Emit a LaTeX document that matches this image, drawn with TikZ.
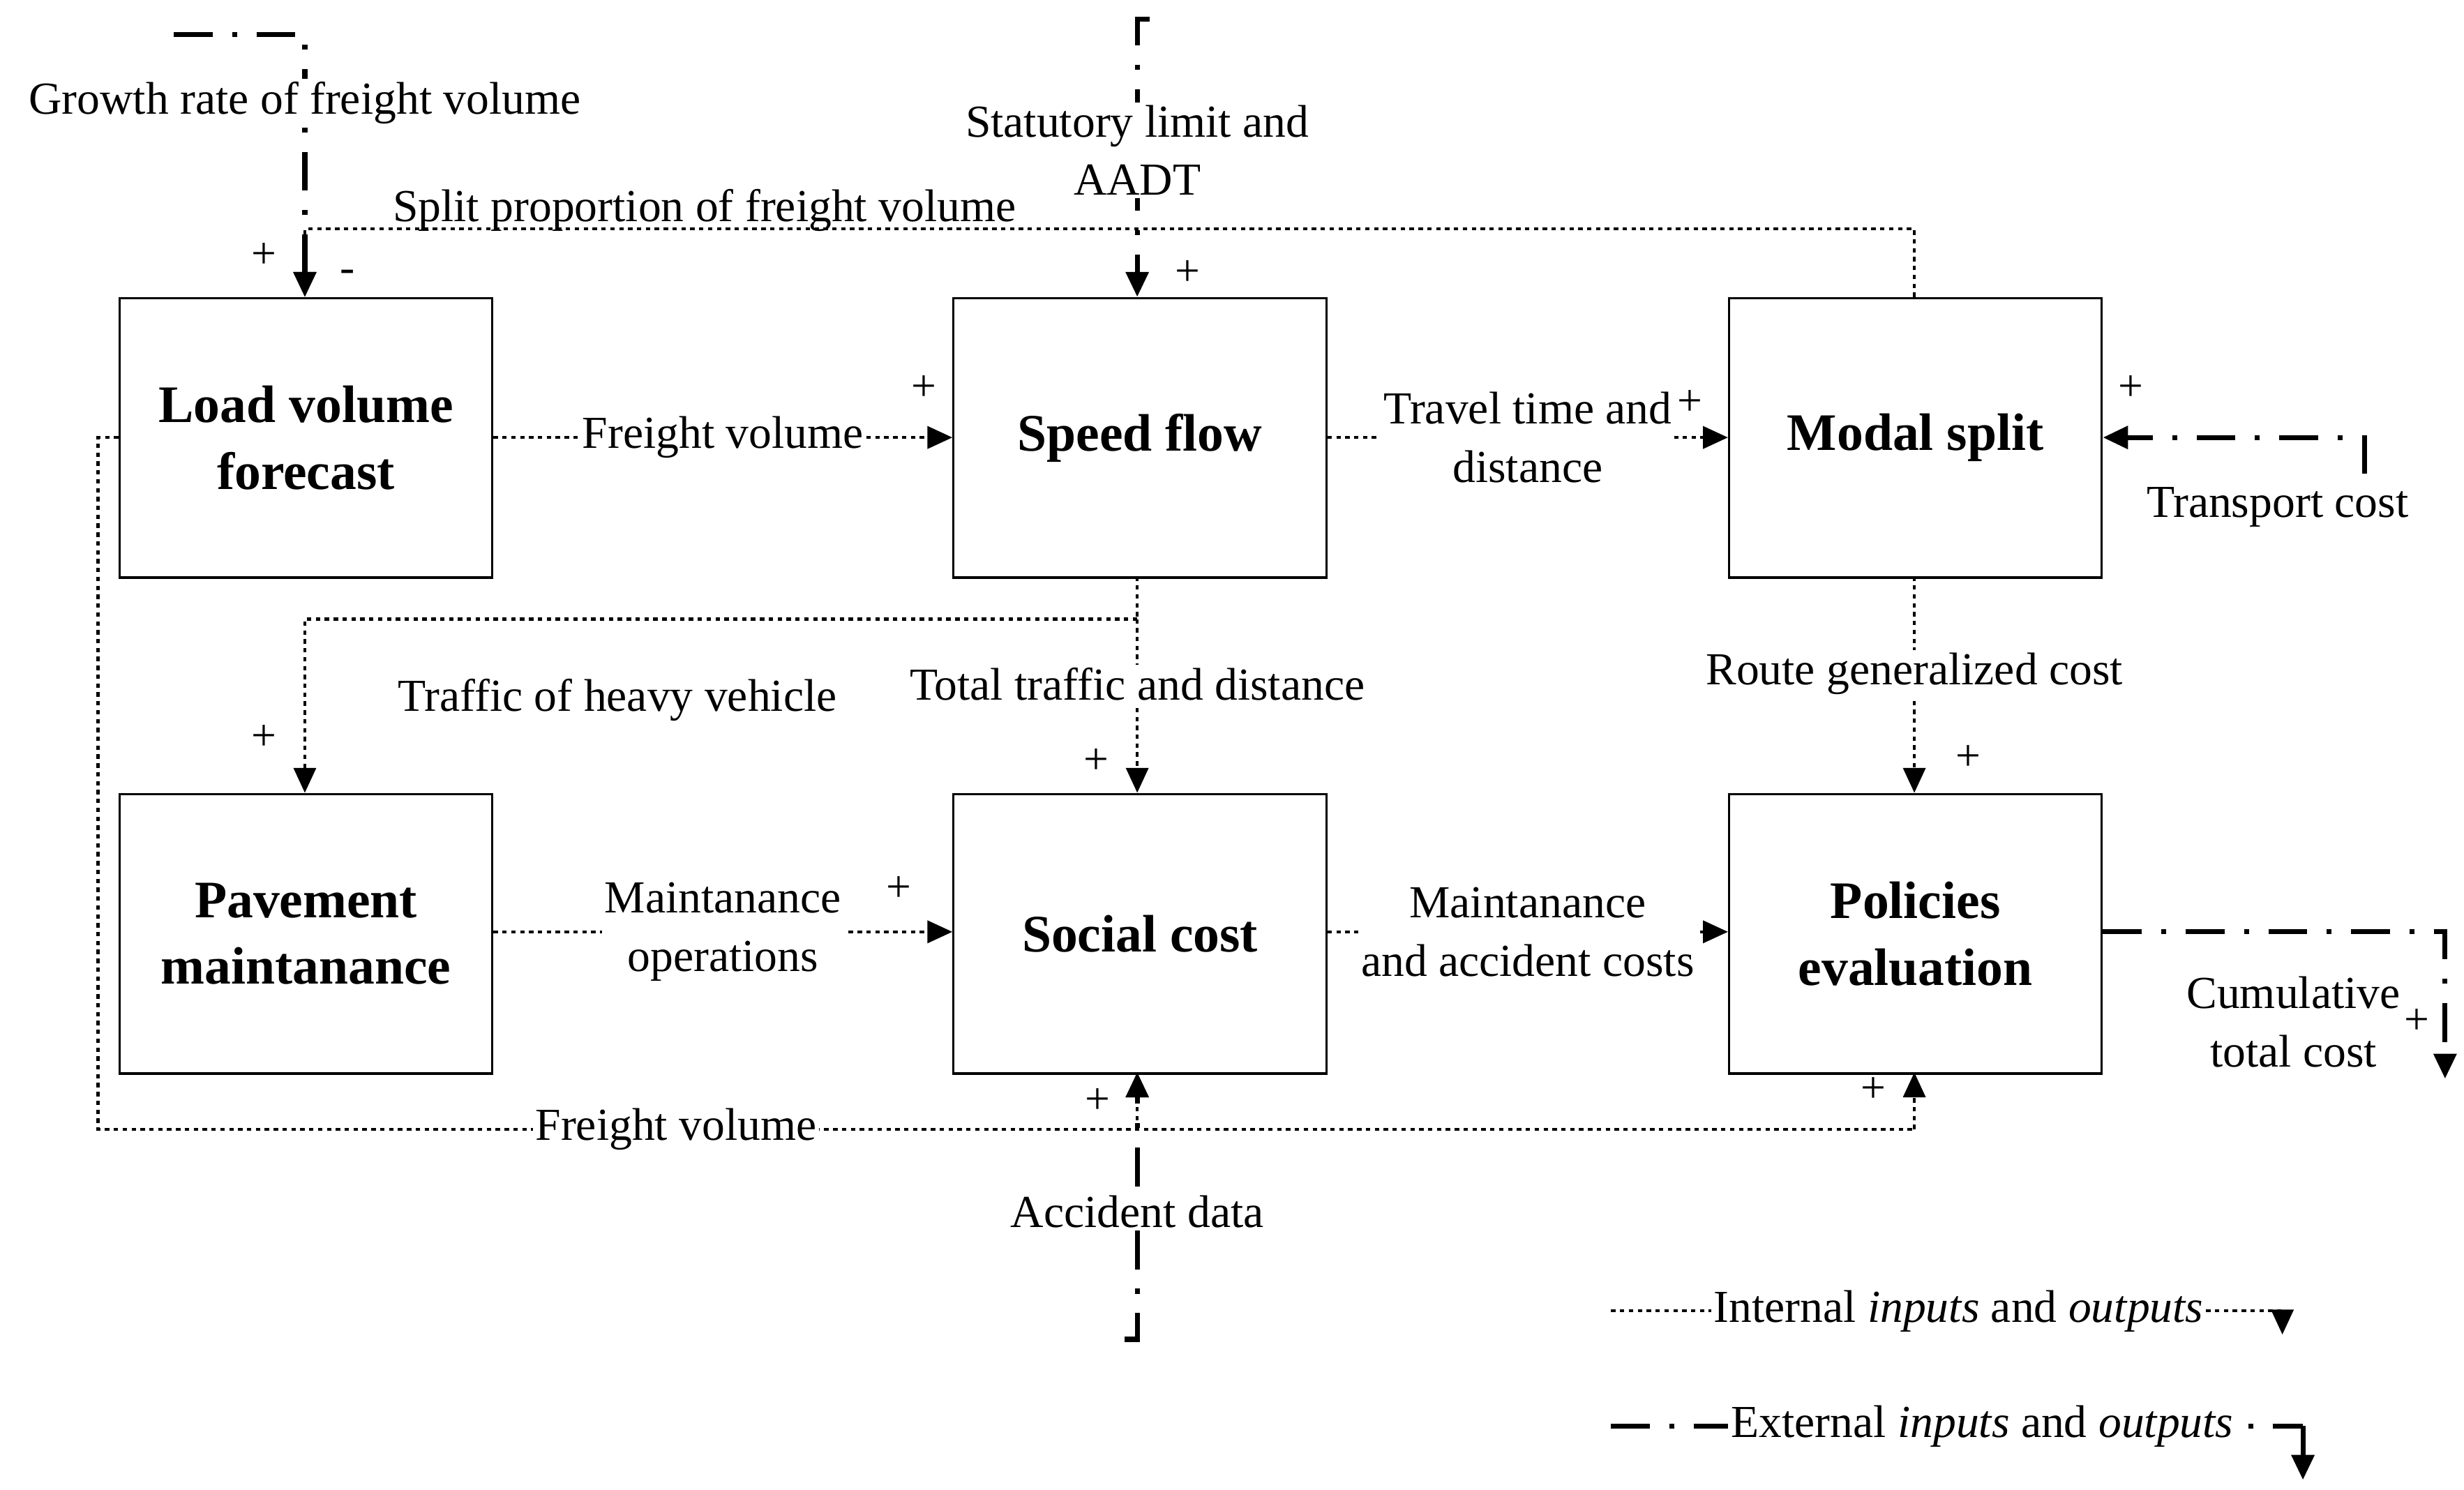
\documentclass[tikz,border=0pt]{standalone}
\usepackage{fontspec}
\setmainfont{Liberation Serif}
\usetikzlibrary{arrows.meta}
\begin{document}
\begin{tikzpicture}[x=0.02cm,y=-0.02cm,
 box/.style={draw,line width=0.8pt,minimum width=236*0.02cm,minimum height=177*0.02cm,font=\fontsize{19}{24}\selectfont\bfseries,align=center,anchor=north west,inner sep=0pt},
 lbl/.style={font=\fontsize{16.5}{21}\selectfont,align=center,fill=white,inner sep=1pt},
 pl/.style={font=\fontsize{16}{18}\selectfont,inner sep=0pt},
 int/.style={line width=1.1pt,dash pattern=on 1.6pt off 1.6pt},
 ext/.style={line width=1.8pt,dash pattern=on 14pt off 7pt on 1.8pt off 7pt},
 arr/.style={-{Triangle[length=9pt,width=8pt]}},
]
\useasboundingbox (0,0) rectangle (1560,943);
\node[box] (L) at (75,188) {Load volume\\forecast};
\node[box] (S) at (603,188) {Speed flow};
\node[box] (M) at (1094,188) {Modal split};
\node[box] (P) at (75,502) {Pavement\\maintanance};
\node[box] (C) at (603,502) {Social cost};
\node[box] (E) at (1094,502) {Policies\\evaluation};
\coordinate (Lt) at (193,188); \coordinate (St) at (720,188); \coordinate (Mt) at (1212,188);
\coordinate (Pt) at (193,502); \coordinate (Ct) at (720,502); \coordinate (Et) at (1212,502);
\coordinate (Cb) at (720,679); \coordinate (Eb) at (1212,679);
% internal
\draw[int,arr] (L.east |- 0,277) -- (S.west |- 0,277) node[lbl,midway] {Freight volume};
\draw[int,arr] (S.east |- 0,277) -- (M.west |- 0,277) node[lbl,midway] {Travel time and\\distance};
\draw[int,arr] (Mt) |- (193,145) -- (Lt);
\node[lbl,fill=none] at (446,133) {Split proportion of freight volume};
\draw[int] (720,365) -- (720,392);
\draw[int,arr] (720,392) -| (Pt);
\draw[int,arr] (720,392) -- (Ct);
\node[lbl,fill=none] at (391,443) {Traffic of heavy vehicle};
\node[lbl] at (720,433) {Total traffic and distance};
\draw[int,arr] (1212,365) -- (Et) node[lbl,pos=0.45] {Route generalized cost};
\draw[int,arr] (P.east |- 0,590) -- (C.west |- 0,590) node[lbl,midway] {Maintanance\\operations};
\draw[int,arr] (C.east |- 0,590) -- (E.west |- 0,590) node[lbl,midway] {Maintanance\\and accident costs};
\draw[int] (L.west |- 0,277) -- (62,277) -- (62,715) -- (1212,715);
\draw[int,arr] (1212,715) -- (Eb);
\draw[int,arr] (720,715) -- (Cb);
\node[lbl] at (428,715) {Freight volume};
% external
\draw[ext,arr] (110,22) -- (193,22) -- (Lt);
\node[lbl] at (193,65) {Growth rate of freight volume};
\draw[ext,arr] (728,12) -- (720,12) -- (St);
\node[lbl] at (720,95) {Statutory limit and\\AADT};
\draw[ext,arr] (1497,300) |- (M.east |- 0,277);
\node[lbl] at (1442,321) {Transport cost};
\draw[ext,arr] (E.east |- 0,590) -| (1548,683);
\node[lbl] at (1452,647) {Cumulative\\total cost};
\draw[ext,arr] (712,848) -- (720,848) -- (Cb);
\node[lbl] at (720,767) {Accident data};
% signs
\foreach \x/\y/\s in {167/162/+,220/175/-,585/246/+,752/173/+,1070/255/+,1349/246/+,167/467/+,694/482/+,1246/480/+,569/563/+,1530/647/+,695/697/+,1186/690/+}
 \node[pl] at (\x,\y) {\s};
% legend
\coordinate (l1) at (1020,830); \coordinate (l2) at (1445,830);
\draw[int] (l1) -- (l2);
\draw[int,arr] (l2) -- (1445,845);
\node[lbl] at (1240,830) {Internal \textit{inputs} and \textit{outputs}};
\coordinate (m1) at (1020,903); \coordinate (m2) at (1458,903);
\draw[ext] (m1) -- (m2);
\draw[ext,arr] (m2) -- (1458,937);
\node[lbl] at (1255,903) {External \textit{inputs} and \textit{outputs}};
\end{tikzpicture}
\end{document}
